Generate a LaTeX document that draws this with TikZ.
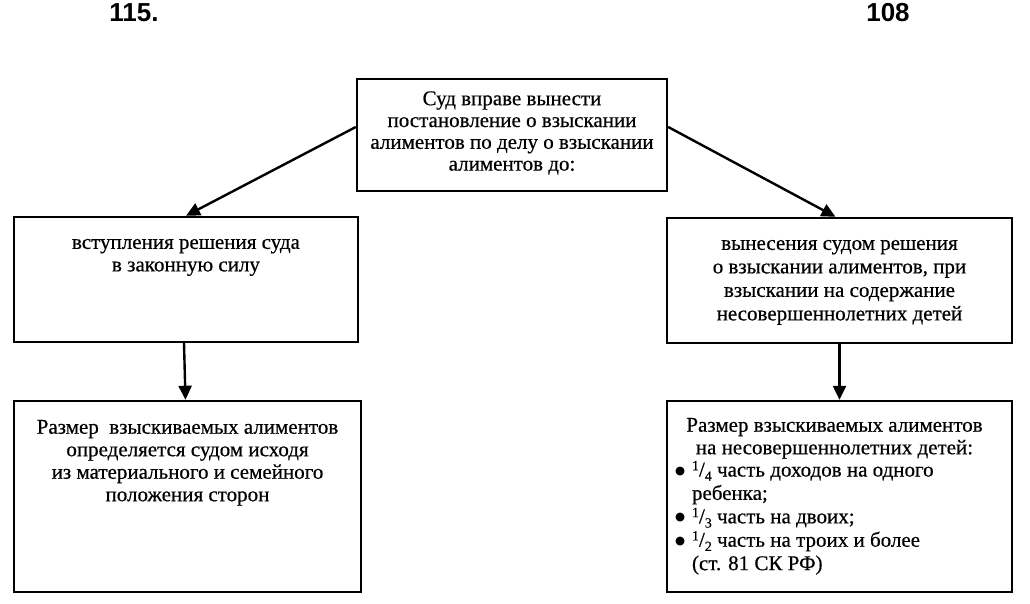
\documentclass[tikz,border=0pt]{standalone}
\usepackage{fontspec}
\setmainfont{Liberation Serif}[FakeBold=0.5]
\newfontfamily\hdrfont{Liberation Sans}
\newfontfamily\bulfont{DejaVu Sans}
\usetikzlibrary{arrows.meta}
\newcommand{\bigbul}{\makebox[17pt][l]{\raisebox{2.5pt}{\bulfont\fontsize{11.5}{11.5}\selectfont ●}}}
\newcommand{\frc}[2]{\raisebox{0.3em}{\fontsize{14}{14}\selectfont #1}/\raisebox{-0.2em}{\fontsize{14}{14}\selectfont #2}}
\begin{document}
\begin{tikzpicture}[x=1pt,y=1pt,
  box/.style={draw, line width=2.4pt, inner sep=0pt},
  txt/.style={font=\fontsize{21}{22.5}\selectfont, align=center, inner sep=0pt},
  lst/.style={font=\fontsize{21}{23.4}\selectfont, align=left, inner sep=0pt},
  hdr/.style={font=\hdrfont\bfseries\fontsize{26}{28}\selectfont, inner sep=0pt},
  arr/.style={line width=2.4pt, -{Triangle[length=14pt,width=13pt]}}]
\useasboundingbox (0,0) rectangle (1030,604);

\node[hdr] (n115) at (134,591.5) {115.};
\node[hdr] (n108) at (888,591.5) {108};

\node[box, minimum width=310pt, minimum height=112pt] (top) at (512,469) {};
\node[txt, font=\fontsize{21}{21.8}\selectfont] (toptxt) at ([yshift=2pt]top.center) {Суд вправе вынести\\постановление о взыскании\\алиментов по делу о взыскании\\алиментов до:};

\node[box, minimum width=344pt, minimum height=125pt] (lmid) at (186,324.5) {};
\node[txt, anchor=north] (lmidtxt) at ([yshift=-23pt]lmid.north) {вступления решения суда\\в законную силу};

\node[box, minimum width=345pt, minimum height=125pt] (rmid) at (839.5,323.5) {};
\node[txt, anchor=north, font=\fontsize{21}{23.5}\selectfont] (rmidtxt) at ([yshift=-23pt]rmid.north) {вынесения судом решения\\о взыскании алиментов, при\\взыскании на содержание\\несовершеннолетних детей};

\node[box, minimum width=347pt, minimum height=191pt] (lbot) at (187.5,107.5) {};
\node[txt, anchor=north] (lbottxt) at ([yshift=-20pt]lbot.north) {Размер~ взыскиваемых алиментов\\определяется судом исходя\\из материального и семейного\\положения сторон};

\node[box, minimum width=345pt, minimum height=191pt] (rbot) at (839.5,107.5) {};
\node[txt, anchor=north] (rbothd) at ([xshift=-5pt,yshift=-18pt]rbot.north) {Размер взыскиваемых алиментов\\на несовершеннолетних детей:};
\node[lst, anchor=north west] (rbotlst) at ([xshift=9pt,yshift=-61pt]rbot.north west)
 {\bigbul\frc{1}{4} часть доходов на одного\\
  \hspace*{17pt}ребенка;\\
  \bigbul\frc{1}{3} часть на двоих;\\
  \bigbul\frc{1}{2} часть на троих и более\\
  \hspace*{17pt}(ст. 81 СК РФ)};

\draw[arr] ([yshift=8pt]top.west) -- (lmid.north);
\draw[arr] ([yshift=8pt]top.east) -- ([xshift=-4pt]rmid.north);
\draw[arr] ([xshift=-2pt]lmid.south) -- ([xshift=-2pt]lbot.north);
\draw[arr] (rmid.south) -- (rbot.north);
\end{tikzpicture}
\end{document}
